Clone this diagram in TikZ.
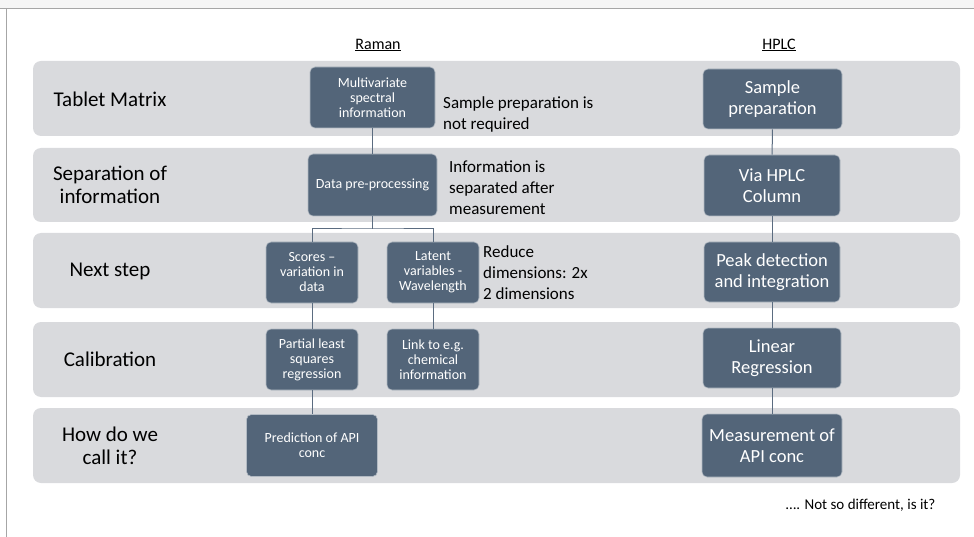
\documentclass[tikz,border=0pt]{standalone}
\usepackage{fontspec}
\setmainfont{Carlito}
\definecolor{boxblue}{HTML}{536579}
\definecolor{bandgrey}{HTML}{D9DADD}
\definecolor{wireblue}{HTML}{5B6C80}

\begin{document}
\begin{tikzpicture}[x=1pt,y=-1pt,band/.style={fill=bandgrey, rounded corners=8pt},box/.style={draw=white!55!boxblue, line width=0.6pt, fill=boxblue, text=white, rounded corners=5pt, align=center, inner sep=1pt},rbox/.style={box, font=\fontsize{14}{15}\selectfont},hbox/.style={box, font=\fontsize{18.5}{20.5}\selectfont},rowlabel/.style={align=center, font=\fontsize{21}{23}\selectfont},note/.style={anchor=west, align=left, inner sep=0pt, font=\fontsize{17}{21}\selectfont},head/.style={font=\fontsize{16}{19}\selectfont},wire/.style={draw=wireblue, line width=1pt}]
\useasboundingbox (0,0) rectangle (974,537);
\fill[gray!8] (0,0) rectangle (974,8);
\draw[gray!70, line width=1pt] (0,8.5) -- (974,8.5);
\draw[gray!70, line width=1.5pt] (6.5,8.5) -- (6.5,537);
\foreach \t/\b in {61/136,148/222,233/308,322/397,408/483} {\fill[band] (33,\t) rectangle (960,\b);}
% row names
\node[rowlabel] (tablet) at (110,99) {Tablet Matrix};
\node[rowlabel] (separation) at (110,185) {Separation of\\information};
\node[rowlabel] (nextstep) at (110,271) {Next step};
\node[rowlabel] (calib) at (110,359) {Calibration};
\node[rowlabel] (howcall) at (110,446) {How do we\\call it?};
\node[head] (raman) at (378,45) {\underline{Raman}};
\node[head] (hplc) at (779,45) {\underline{HPLC}};
% Raman column
\node[rbox, minimum width=125pt, minimum height=61pt] (spectral) at (372.5,97.5) {Multivariate\\spectral\\information};
\node[rbox, minimum width=129pt, minimum height=62pt] (preproc) at (372.5,185) {Data pre-processing};
\node[rbox, minimum width=92pt, minimum height=61pt] (scores) at (312,272.5) {Scores –\\variation in\\data};
\node[rbox, minimum width=92pt, minimum height=61pt] (latent) at (433,272.5) {Latent\\variables -\\Wavelength};
\node[rbox, minimum width=92pt, minimum height=61pt] (pls) at (312,359.5) {Partial least\\squares\\regression};
\node[rbox, minimum width=92pt, minimum height=61pt] (chem) at (433,359.5) {Link to e.g.\\chemical\\information};
\node[rbox, minimum width=131pt, minimum height=62pt] (predict) at (312,445.5) {Prediction of API\\conc};
\node[note] (noprep) at (443,114) {Sample preparation is\\not required};
\node[note] (separated) at (449,188) {Information is\\separated after\\measurement};
\node[note] (reduce) at (483,273) {Reduce\\dimensions: 2x\\2 dimensions};
% HPLC column
\node[hbox, minimum width=139pt, minimum height=60pt] (sampleprep) at (772.5,99) {Sample\\preparation};
\node[hbox, minimum width=136pt, minimum height=61pt] (column) at (772,185.5) {Via HPLC\\Column};
\node[hbox, minimum width=136pt, minimum height=60pt] (peak) at (772,272) {Peak detection\\and integration};
\node[hbox, minimum width=138pt, minimum height=60pt] (linreg) at (772,358) {Linear\\Regression};
\node[hbox, minimum width=140pt, minimum height=63pt] (measure) at (772,445.5) {Measurement of\\API conc};
\node[anchor=east, font=\fontsize{15}{18}\selectfont] (footer) at (939,505) {…. Not so different, is it?};
% connectors
\coordinate (split) at (372.5,229);
\draw[wire] (spectral) -- (preproc);
\draw[wire] (preproc) -- (split);
\draw[wire] (scores.north) |- (split) -| (latent.north);
\draw[wire] (scores) -- (pls);
\draw[wire] (latent) -- (chem);
\draw[wire] (pls) -- (predict);
\draw[wire] (sampleprep) -- (column);
\draw[wire] (column) -- (peak);
\draw[wire] (peak) -- (linreg);
\draw[wire] (linreg) -- (measure);
\end{tikzpicture}
\end{document}
